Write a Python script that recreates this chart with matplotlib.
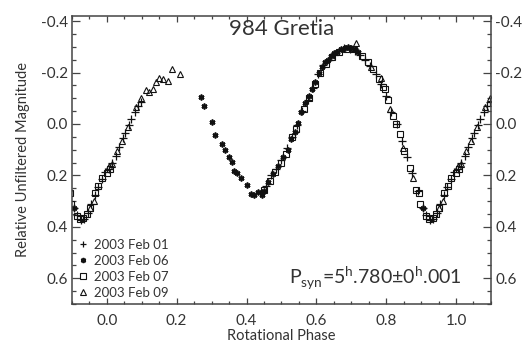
import numpy as np
import matplotlib
matplotlib.use("Agg")
import matplotlib.pyplot as plt
from matplotlib.ticker import MultipleLocator, FormatStrFormatter

# composite lightcurve, phases folded to 0..1
feb01_phase = [0.005, 0.015, 0.025, 0.035, 0.045, 0.052, 0.062, 0.070, 0.081, 0.090, 0.098,
               0.455, 0.470, 0.485, 0.500, 0.515, 0.530, 0.545, 0.560, 0.575, 0.590, 0.605,
               0.620, 0.635, 0.650, 0.665, 0.680, 0.695, 0.710, 0.725, 0.740, 0.755, 0.770,
               0.785, 0.800, 0.815, 0.830, 0.845, 0.860, 0.875, 0.890, 0.905, 0.915, 0.925,
               0.935, 0.945, 0.955, 0.965, 0.975, 0.985, 0.995]
feb01_mag = [0.175, 0.150, 0.125, 0.090, 0.055, 0.035, 0.005, -0.020, -0.045, -0.070, -0.085,
             0.240, 0.200, 0.175, 0.140, 0.095, 0.050, 0.005, -0.050, -0.095, -0.140, -0.195,
             -0.230, -0.250, -0.270, -0.285, -0.295, -0.290, -0.285, -0.270, -0.250, -0.225, -0.195,
             -0.155, -0.110, -0.045, 0.000, 0.065, 0.130, 0.190, 0.260, 0.325, 0.355, 0.375,
             0.370, 0.345, 0.310, 0.275, 0.245, 0.215, 0.185]

feb06_phase = [0.269, 0.278, 0.300, 0.311, 0.330, 0.338, 0.349, 0.357, 0.365, 0.373, 0.383,
               0.400, 0.414, 0.421, 0.433, 0.443, 0.450, 0.462, 0.476, 0.490, 0.505, 0.518,
               0.527, 0.538, 0.548, 0.557, 0.568, 0.580, 0.588, 0.597, 0.607, 0.615, 0.625,
               0.632, 0.642, 0.652, 0.660, 0.672, 0.683, 0.692, 0.700, 0.712, 0.720, 0.906]
feb06_mag = [-0.105, -0.069, -0.009, 0.043, 0.077, 0.101, 0.129, 0.147, 0.181, 0.192, 0.209,
             0.238, 0.272, 0.277, 0.265, 0.277, 0.260, 0.225, 0.195, 0.165, 0.130, 0.100,
             0.060, 0.030, -0.005, -0.045, -0.080, -0.110, -0.135, -0.165, -0.200, -0.220, -0.240,
             -0.250, -0.265, -0.275, -0.280, -0.290, -0.295, -0.300, -0.295, -0.290, -0.280, 0.325]

feb07_phase = [0.001, 0.008, 0.450, 0.468, 0.483, 0.498, 0.512, 0.530, 0.543, 0.565, 0.578,
               0.595, 0.610, 0.628, 0.645, 0.665, 0.685, 0.705, 0.730, 0.748, 0.763, 0.780,
               0.790, 0.796, 0.805, 0.819, 0.829, 0.841, 0.852, 0.867, 0.886, 0.895, 0.898,
               0.914, 0.924, 0.933, 0.943, 0.952, 0.967, 0.976, 0.986]
feb07_mag = [0.190, 0.175, 0.255, 0.220, 0.185, 0.150, 0.115, 0.050, 0.020, -0.060, -0.100,
             -0.155, -0.200, -0.235, -0.260, -0.280, -0.290, -0.290, -0.265, -0.240, -0.215, -0.175,
             -0.145, -0.135, -0.095, -0.031, 0.001, 0.038, 0.105, 0.170, 0.255, 0.268, 0.313,
             0.359, 0.370, 0.365, 0.352, 0.326, 0.268, 0.242, 0.209]

feb09_phase = [0.005, 0.014, 0.029, 0.043, 0.060, 0.084, 0.098, 0.111, 0.121, 0.131, 0.141,
               0.150, 0.162, 0.174, 0.186, 0.209, 0.714, 0.757, 0.786, 0.810, 0.848, 0.876,
               0.952, 0.962]
feb09_mag = [0.164, 0.156, 0.105, 0.066, 0.010, -0.066, -0.100, -0.131, -0.126, -0.135, -0.164,
             -0.177, -0.174, -0.168, -0.214, -0.196, -0.313, -0.222, -0.180, -0.057, 0.092, 0.209,
             0.326, 0.300]

dates = ['2003 Feb 01', '2003 Feb 06', '2003 Feb 07', '2003 Feb 09']

plt.rcParams['font.family'] = ['Lato', 'DejaVu Sans']
plt.rcParams['mathtext.fontset'] = 'custom'
plt.rcParams['mathtext.rm'] = 'Lato'


def extend(phase, mag):
    # repeat the folded points one cycle either side
    p = np.asarray(phase)
    m = np.asarray(mag)
    return np.concatenate([p - 1, p, p + 1]), np.concatenate([m, m, m])


fig = plt.figure(figsize=(5.29, 3.47), dpi=100)
ax = fig.add_axes([0.136, 0.124, 0.792, 0.830])

ink = '#111111'
txt = '#333333'
x, y = extend(feb01_phase, feb01_mag)
ax.plot(x, y, '+', color=ink, ms=5.5, mew=0.9, label=dates[0])
x, y = extend(feb06_phase, feb06_mag)
ax.plot(x, y, ls='none', marker=(6, 2, 0), color=ink, ms=4.2, mew=1.2, label=dates[1])
x, y = extend(feb07_phase, feb07_mag)
ax.plot(x, y, 's', mfc='none', mec=ink, ms=4.3, mew=0.8, label=dates[2])
x, y = extend(feb09_phase, feb09_mag)
ax.plot(x, y, '^', mfc='none', mec=ink, ms=4.5, mew=0.8, label=dates[3])

ax.set_xlim(-0.1, 1.1)
ax.set_ylim(0.7, -0.42)

ax.xaxis.set_major_locator(MultipleLocator(0.2))
ax.xaxis.set_minor_locator(MultipleLocator(0.05))
ax.yaxis.set_major_locator(MultipleLocator(0.2))
ax.yaxis.set_minor_locator(MultipleLocator(0.05))
ax.xaxis.set_major_formatter(FormatStrFormatter('%.1f'))
ax.yaxis.set_major_formatter(FormatStrFormatter('%.1f'))

ax.tick_params(axis='both', which='both', direction='in', top=True, right=True,
               labelright=True, labelsize=11, colors='#444444', labelcolor=txt, width=0.9)
ax.tick_params(axis='x', which='major', length=4.2, pad=7)
ax.tick_params(axis='x', which='minor', length=2.1)
ax.tick_params(axis='y', which='major', length=6.0, pad=3)
ax.tick_params(axis='y', which='minor', length=3.0)
for s in ax.spines.values():
    s.set_linewidth(1.1)
    s.set_color('#444444')

ax.set_xlabel('Rotational Phase', fontsize=10.5, labelpad=1, color=txt)
ax.set_ylabel('Relative Unfiltered Magnitude', fontsize=10.5, labelpad=8, color=txt)

ax.text(0.5, 0.955, '984 Gretia', transform=ax.transAxes, ha='center', va='center',
        fontsize=16, color=txt)
ax.text(0.93, 0.09, r'P$_{\rm syn}$=5$^{\rm h}$.780$\pm$0$^{\rm h}$.001', transform=ax.transAxes,
        ha='right', va='center', fontsize=14, color=txt)

ax.legend(loc='lower left', frameon=False, fontsize=9.5, handletextpad=0.4,
          borderaxespad=0.1, borderpad=0.3, labelspacing=0.3, handlelength=0.9,
          markerscale=0.9, labelcolor=txt)

fig.savefig('out.png', dpi=100)
